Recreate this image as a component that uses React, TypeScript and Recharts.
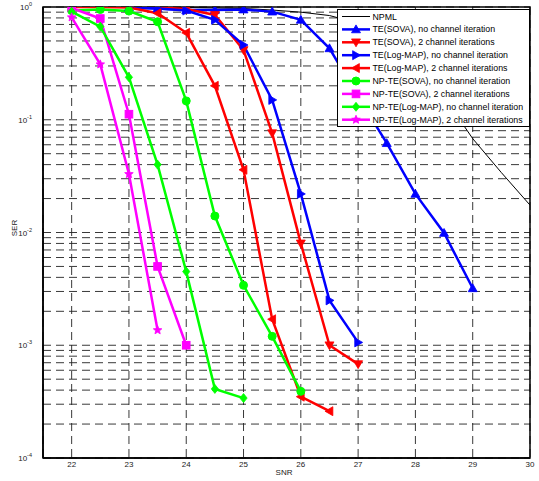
import { CartesianGrid, Line, LineChart, ReferenceArea, XAxis, YAxis } from "recharts";

const FONT = '"Liberation Sans", Arial, Helvetica, sans-serif';

const snrTicks = [22, 23, 24, 25, 26, 27, 28, 29, 30];
const decades = [-4, -3, -2, -1, 0];
const minorSteps = [1, 2, 3, 4, 5, 6, 7, 8, 9];

const npmlSnr = [22, 23, 24, 25, 25.5, 26, 26.5, 27, 27.5, 28, 28.5, 29, 29.5, 30];
const npmlSer = [1, 1, 0.99, 0.97, 0.94, 0.9, 0.84, 0.72, 0.55, 0.33, 0.16, 0.068, 0.034, 0.0175];

const teSovaSnr = [23, 23.5, 24, 24.5, 25, 25.5, 26, 26.5, 27, 27.5, 28, 28.5, 29];
const teSovaSer = [0.99, 0.97, 0.94, 0.94, 0.95, 0.91, 0.77, 0.43, 0.16, 0.062, 0.022, 0.0099, 0.0032];

const teSova2Snr = [23, 23.5, 24, 24.5, 25, 25.5, 26, 26.5, 27];
const teSova2Ser = [1, 0.99, 0.96, 0.85, 0.415, 0.076, 0.008, 0.001, 0.00068];

const teLogSnr = [23, 23.5, 24, 24.5, 25, 25.5, 26, 26.5, 27];
const teLogSer = [0.99, 0.97, 0.93, 0.77, 0.46, 0.15, 0.022, 0.0025, 0.00106];

const teLog2Snr = [22, 22.5, 23, 23.5, 24, 24.5, 25, 25.5, 26, 26.5];
const teLog2Ser = [1, 1, 0.99, 0.88, 0.59, 0.2, 0.036, 0.0017, 0.00035, 0.00026];

const npSovaSnr = [22, 22.5, 23, 23.5, 24, 24.5, 25, 25.5, 26];
const npSovaSer = [0.93, 0.95, 0.92, 0.74, 0.147, 0.014, 0.0034, 0.0012, 0.00039];

const npSova2Snr = [22, 22.5, 23, 23.5, 24];
const npSova2Ser = [0.98, 0.79, 0.112, 0.005, 0.001];

const npLogSnr = [22, 22.5, 23, 23.5, 24, 24.5, 25];
const npLogSer = [0.91, 0.67, 0.238, 0.04, 0.0045, 0.00041, 0.00034];

const npLog2Snr = [22, 22.5, 23, 23.5];
const npLog2Ser = [0.81, 0.31, 0.033, 0.00136];

const yTicks = decades.flatMap((d) => (d === 0 ? [1] : minorSteps.map((m) => m * Math.pow(10, d))));

type Shape = "none" | "up" | "down" | "right" | "left" | "circle" | "square" | "diamond" | "star";

const series: { name: string; color: string; shape: Shape; snr: number[]; ser: number[] }[] = [
  { name: "NPML", color: "#000000", shape: "none", snr: npmlSnr, ser: npmlSer },
  { name: "TE(SOVA), no channel iteration", color: "#0000ff", shape: "up", snr: teSovaSnr, ser: teSovaSer },
  { name: "TE(SOVA), 2 channel iterations", color: "#ff0000", shape: "down", snr: teSova2Snr, ser: teSova2Ser },
  { name: "TE(Log-MAP), no channel iteration", color: "#0000ff", shape: "right", snr: teLogSnr, ser: teLogSer },
  { name: "TE(Log-MAP), 2 channel iterations", color: "#ff0000", shape: "left", snr: teLog2Snr, ser: teLog2Ser },
  { name: "NP-TE(SOVA), no channel iteration", color: "#00ff00", shape: "circle", snr: npSovaSnr, ser: npSovaSer },
  { name: "NP-TE(SOVA), 2 channel iterations", color: "#ff00ff", shape: "square", snr: npSova2Snr, ser: npSova2Ser },
  { name: "NP-TE(Log-MAP), no channel iteration", color: "#00ff00", shape: "diamond", snr: npLogSnr, ser: npLogSer },
  { name: "NP-TE(Log-MAP), 2 channel iterations", color: "#ff00ff", shape: "star", snr: npLog2Snr, ser: npLog2Ser },
];

function Marker({ shape, cx, cy, color }: { shape: Shape; cx: number; cy: number; color: string }) {
  const r = 4.5;
  if (shape === "none") return <g />;
  if (shape === "circle") return <circle cx={cx} cy={cy} r={4} fill={color} stroke={color} />;
  if (shape === "square") return <rect x={cx - 3.8} y={cy - 3.8} width={7.6} height={7.6} fill={color} stroke={color} />;
  let pts: number[][] = [];
  if (shape === "up") pts = [[0, -r], [r, r * 0.75], [-r, r * 0.75]];
  if (shape === "down") pts = [[0, r], [r, -r * 0.75], [-r, -r * 0.75]];
  if (shape === "right") pts = [[r, 0], [-r * 0.75, r], [-r * 0.75, -r]];
  if (shape === "left") pts = [[-r, 0], [r * 0.75, r], [r * 0.75, -r]];
  if (shape === "diamond") pts = [[0, -r], [r * 0.8, 0], [0, r], [-r * 0.8, 0]];
  if (shape === "star") {
    for (let i = 0; i < 10; i++) {
      const a = -Math.PI / 2 + (i * Math.PI) / 5;
      const rr = i % 2 === 0 ? r : r * 0.45;
      pts.push([rr * Math.cos(a), rr * Math.sin(a)]);
    }
  }
  return (
    <polygon
      points={pts.map(([px, py]) => `${cx + px},${cy + py}`).join(" ")}
      fill={color}
      stroke={color}
      strokeWidth={0.8}
    />
  );
}

function YTick({ y, payload }: any) {
  const v = payload.value;
  const e = Math.round(Math.log10(v));
  if (Math.abs(v / Math.pow(10, e) - 1) > 1e-6) return <g />;
  return (
    <text x={32} y={y + 3} textAnchor="end" fontSize={8} fontFamily={FONT} fill="#222">
      10
      <tspan dy={-4} fontSize={5.5}>
        {e}
      </tspan>
    </text>
  );
}

function XTick({ x, payload }: any) {
  return (
    <text x={x} y={467} textAnchor="middle" fontSize={8} fontFamily={FONT} fill="#222">
      {payload.value}
    </text>
  );
}

function LegendBox() {
  return (
    <svg
      width={194}
      height={119}
      style={{ position: "absolute", left: 337, top: 9 }}
    >
      <rect x={0.5} y={0.5} width={192} height={117} fill="#fff" stroke="#000" strokeWidth={1} />
      {series.map((s, i) => {
        const cy = 7.5 + i * 12.9;
        return (
          <g key={s.name}>
            <line x1={5} x2={33} y1={cy} y2={cy} stroke={s.color} strokeWidth={s.shape === "none" ? 1 : 2.5} />
            <Marker shape={s.shape} cx={19} cy={cy} color={s.color} />
            <text x={35.5} y={cy + 3} fontSize={8.8} fontFamily={FONT} fill="#000">
              {s.name}
            </text>
          </g>
        );
      })}
    </svg>
  );
}

export default function App() {
  return (
    <div style={{ position: "absolute", left: 0, top: 0, width: 539, height: 481, background: "#fff" }}>
      <LineChart width={539} height={481} margin={{ top: 7, right: 9, bottom: 0, left: 8 }}>
        <CartesianGrid stroke="#222" strokeDasharray="8 5" strokeWidth={0.9} />
        <XAxis
          type="number"
          dataKey="snr"
          domain={[21.5, 30]}
          ticks={snrTicks}
          allowDataOverflow
          tickLine={false}
          axisLine={{ stroke: "#000", strokeWidth: 1.5 }}
          height={23}
          tick={<XTick />}
          label={{
            content: () => (
              <text x={284} y={475} textAnchor="middle" fontSize={8} fontFamily={FONT} fill="#222">
                SNR
              </text>
            ),
          }}
        />
        <YAxis
          type="number"
          dataKey="ser"
          scale="log"
          domain={[1e-4, 1]}
          ticks={yTicks}
          allowDataOverflow
          interval={0}
          tickLine={false}
          axisLine={{ stroke: "#000", strokeWidth: 1.5 }}
          width={35}
          tick={<YTick />}
          label={{
            content: () => (
              <text
                x={17}
                y={228}
                transform="rotate(-90 17 228)"
                textAnchor="middle"
                fontSize={8}
                fontFamily={FONT}
                fill="#222"
              >
                SER
              </text>
            ),
          }}
        />
        <ReferenceArea x1={21.5} x2={30} y1={1e-4} y2={1} fill="none" stroke="#000" strokeWidth={1.5} />
        {series.map((s) => (
          <Line
            key={s.name}
            data={s.snr.map((x, i) => ({ snr: x, ser: s.ser[i] }))}
            dataKey="ser"
            stroke={s.color}
            strokeWidth={s.shape === "none" ? 1 : 2.5}
            isAnimationActive={false}
            dot={(p: any) => (
              <Marker key={`${s.name}-${p.index}`} shape={s.shape} cx={p.cx} cy={p.cy} color={s.color} />
            )}
            activeDot={false}
          />
        ))}
      </LineChart>
      <LegendBox />
    </div>
  );
}
